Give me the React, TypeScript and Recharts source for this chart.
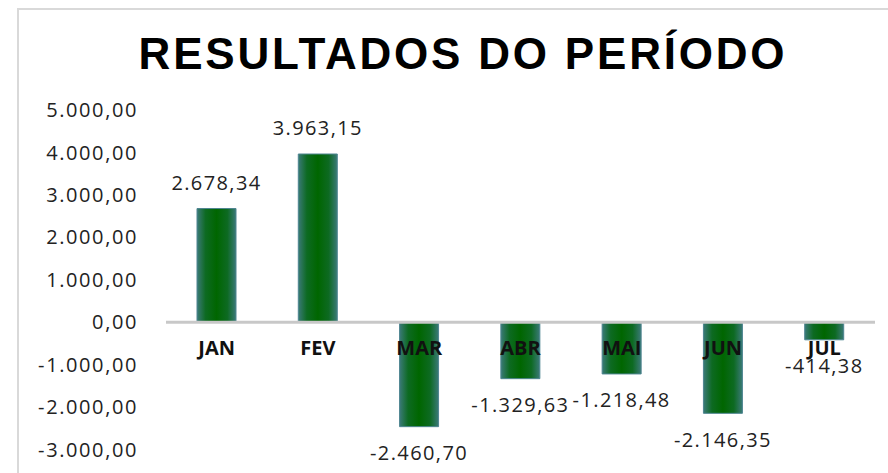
import { BarChart, Bar, XAxis, YAxis, LabelList, ReferenceLine } from "recharts";

const meses = ["JAN", "FEV", "MAR", "ABR", "MAI", "JUN", "JUL"];
const resultados = [2678.34, 3963.15, -2460.7, -1329.63, -1218.48, -2146.35, -414.38];
const yTicks = [5000, 4000, 3000, 2000, 1000, 0, -1000, -2000, -3000];

const data = meses.map((mes, i) => ({ mes, valor: resultados[i] }));

const Y_MIN = -4000;
const Y_MAX = 5000;
const CHART_W = 888;
const CHART_H = 520;
const MARGIN = { top: 110, right: 13, bottom: 27, left: 0 };
const X_AXIS_H = 1;
const PLOT_H = CHART_H - MARGIN.top - MARGIN.bottom - X_AXIS_H;
// distance from plot bottom up to the zero line
const ZERO_FROM_BOTTOM = (PLOT_H * (0 - Y_MIN)) / (Y_MAX - Y_MIN);

function fmtBR(v: number) {
  const neg = v < 0;
  const [int, dec] = Math.abs(v).toFixed(2).split(".");
  const withDots = int.replace(/\B(?=(\d{3})+(?!\d))/g, ".");
  return (neg ? "-" : "") + withDots + "," + dec;
}

function renderMesTick(props: any) {
  const { x, y, payload } = props;
  return (
    <text
      x={x}
      y={y - ZERO_FROM_BOTTOM + 33}
      textAnchor="middle"
      fontFamily="'Open Sans', sans-serif"
      fontWeight={700}
      fontSize={20}
      fill="#111"
    >
      {payload.value}
    </text>
  );
}

export default function App() {
  return (
    <div
      style={{
        position: "fixed",
        left: 0,
        top: 0,
        width: 888,
        height: 473,
        overflow: "hidden",
        background: "#fff",
      }}
    >
      <div
        style={{
          position: "absolute",
          left: 17,
          top: 8,
          width: 900,
          height: 500,
          borderLeft: "2px solid #d9d9d9",
          borderTop: "2px solid #d9d9d9",
        }}
      />
      <svg width={888} height={100} style={{ position: "absolute", left: 0, top: 0 }}>
        <text
          x={463}
          y={69}
          textAnchor="middle"
          fontFamily="'Liberation Sans', Arial, sans-serif"
          fontWeight={700}
          fontSize={44}
          letterSpacing={2.8}
          fill="#000"
        >
          RESULTADOS DO PERÍODO
        </text>
      </svg>
      <div style={{ position: "absolute", left: 0, top: 0 }}>
        <BarChart width={CHART_W} height={CHART_H} data={data} margin={MARGIN}>
          <defs>
            <linearGradient id="verde" x1="0" y1="0" x2="1" y2="0">
              <stop offset="0%" stopColor="#3b7a78" />
              <stop offset="22%" stopColor="#0d6a22" />
              <stop offset="50%" stopColor="#006600" />
              <stop offset="78%" stopColor="#0d6a22" />
              <stop offset="100%" stopColor="#3b7a78" />
            </linearGradient>
          </defs>
          <YAxis
            domain={[Y_MIN, Y_MAX]}
            ticks={yTicks}
            width={166}
            axisLine={false}
            tickLine={false}
            tickSize={0}
            tickMargin={28}
            tickFormatter={fmtBR}
            tick={{
              fontFamily: "'Open Sans', sans-serif",
              fontSize: 20,
              fill: "#222",
              letterSpacing: 1.6,
            }}
            interval={0}
          />
          <Bar
            dataKey="valor"
            barSize={39}
            fill="url(#verde)"
            stroke="#4e8590"
            strokeWidth={1}
            isAnimationActive={false}
          >
            <LabelList
              dataKey="valor"
              position="top"
              offset={19}
              formatter={(v: any) => fmtBR(Number(v))}
              style={{
                fontFamily: "'Open Sans', sans-serif",
                fontSize: 20,
                fill: "#222",
                letterSpacing: 1.4,
              }}
            />
          </Bar>
          <ReferenceLine y={0} stroke="#c8c8c8" strokeWidth={3} />
          <XAxis
            dataKey="mes"
            height={X_AXIS_H}
            axisLine={false}
            tickLine={false}
            tickSize={0}
            tickMargin={0}
            tick={renderMesTick}
            interval={0}
          />
        </BarChart>
      </div>
    </div>
  );
}
